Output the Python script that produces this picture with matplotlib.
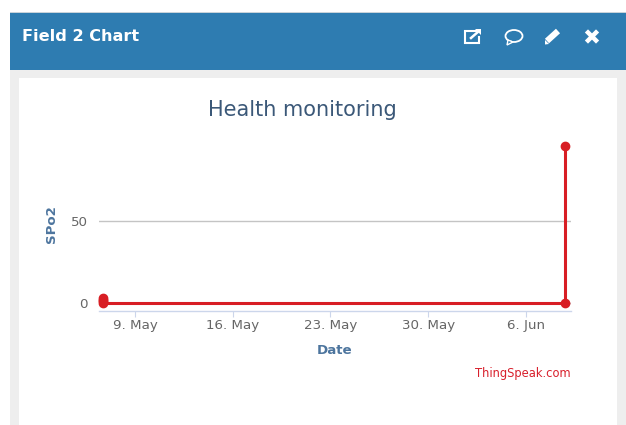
import matplotlib
matplotlib.use("Agg")
import matplotlib.pyplot as plt
import matplotlib.dates as mdates
from matplotlib.patches import Rectangle, Ellipse, Polygon
from datetime import datetime, timedelta

W, H = 626, 425
plt.rcParams['font.family'] = ['DejaVu Sans']

# Data
start = datetime(2024, 5, 9)
day_offsets = [-2.3, -2.3, -2.3, -2.3, 30.8, 30.8]
spo2 = [3, 2, 1, 0, 0, 95]
dates = [start + timedelta(days=d) for d in day_offsets]
tick_dates = [datetime(2024, 5, 9), datetime(2024, 5, 16), datetime(2024, 5, 23),
              datetime(2024, 5, 30), datetime(2024, 6, 6)]
tick_labels = ['9. May', '16. May', '23. May', '30. May', '6. Jun']
y_ticks = [0, 50]
title = 'Health monitoring'
panel_title = 'Field 2 Chart'

fig = plt.figure(figsize=(W / 100, H / 100), dpi=100, facecolor='white')

# Panel decoration in pixel coordinates
bg = fig.add_axes([0, 0, 1, 1], zorder=0)
bg.set_xlim(0, W); bg.set_ylim(H, 0); bg.axis('off')
bg.add_patch(Rectangle((9.5, 70), W - 9.5, H - 70, fc='#eeeeee', ec='none'))
bg.add_patch(Rectangle((9.5, 12), W - 9.5, 58, fc='#2e7cb1', ec='none'))
bg.add_patch(Rectangle((9.5, 12), W - 9.5, 1, fc='#c9d3da', ec='none'))
bg.add_patch(Rectangle((19, 78), 598, H - 78, fc='white', ec='none'))
bg.text(22, 36.5, panel_title, color='white', fontsize=11.6, fontweight='bold', va='center', ha='left')
bg.text(302.5, 110, title, color='#3b5878', fontsize=15, va='center', ha='center')
bg.text(571, 373, 'ThingSpeak.com', color='#d8202c', fontsize=8.3, va='center', ha='right')
bg.text(335, 351, 'Date', color='#4d759e', fontsize=9.6, fontweight='bold', va='center', ha='center')
bg.text(52, 224.5, 'SPo2', color='#4d759e', fontsize=9.6, fontweight='bold', va='center', ha='center', rotation=90)

# Header icons
bg.plot([478, 465, 465, 479, 479], [31, 31, 43, 43, 37], color='white', lw=1.5, solid_joinstyle='miter')
bg.plot([471, 479], [38, 31], color='white', lw=1.8)
bg.add_patch(Polygon([[475, 29], [481, 29], [481, 35]], fc='white', ec='none'))
bg.add_patch(Ellipse((514, 36), 17, 12, fc='none', ec='white', lw=1.3))
bg.add_patch(Polygon([[508, 40], [507, 45], [513, 42]], fc='#2e7cb1', ec='white', lw=1))
bg.plot([547, 558], [41, 31], color='white', lw=4.4, solid_capstyle='butt')
bg.add_patch(Polygon([[545, 40], [549, 44], [545, 44.5]], fc='white', ec='none'))
bg.plot([588, 596], [32.5, 40.5], color='white', lw=3.2)
bg.plot([588, 596], [40.5, 32.5], color='white', lw=3.2)

# Chart
ax = fig.add_axes([99 / W, (H - 311) / H, 472 / W, (311 - 130) / H], zorder=1)
ax.patch.set_alpha(0)
x0 = mdates.date2num(start)
ax.set_xlim(x0 - 36 / 13.96, x0 + 436 / 13.96)
ax.set_ylim(-8 / 1.65, 173 / 1.65)
for s in ['top', 'left', 'right']:
    ax.spines[s].set_visible(False)
ax.spines['bottom'].set_color('#ccd6eb')
ax.spines['bottom'].set_linewidth(1)
ax.set_xticks(tick_dates, tick_labels)
ax.set_yticks(y_ticks)
ax.tick_params(axis='x', length=4.2, width=0.8, color='#ccd6eb', labelcolor='#666666', labelsize=9.6, pad=1.5)
ax.tick_params(axis='y', length=0, labelcolor='#666666', labelsize=9.6, pad=8)
ax.grid(axis='y', color='#c4c4c4', lw=1)
ax.set_axisbelow(True)
ax.plot(dates, spo2, color='#d81e24', lw=2.2, marker='o', ms=6, mec='#d81e24', mfc='#d81e24', clip_on=False)

fig.savefig('out.png', dpi=100, facecolor='white')
